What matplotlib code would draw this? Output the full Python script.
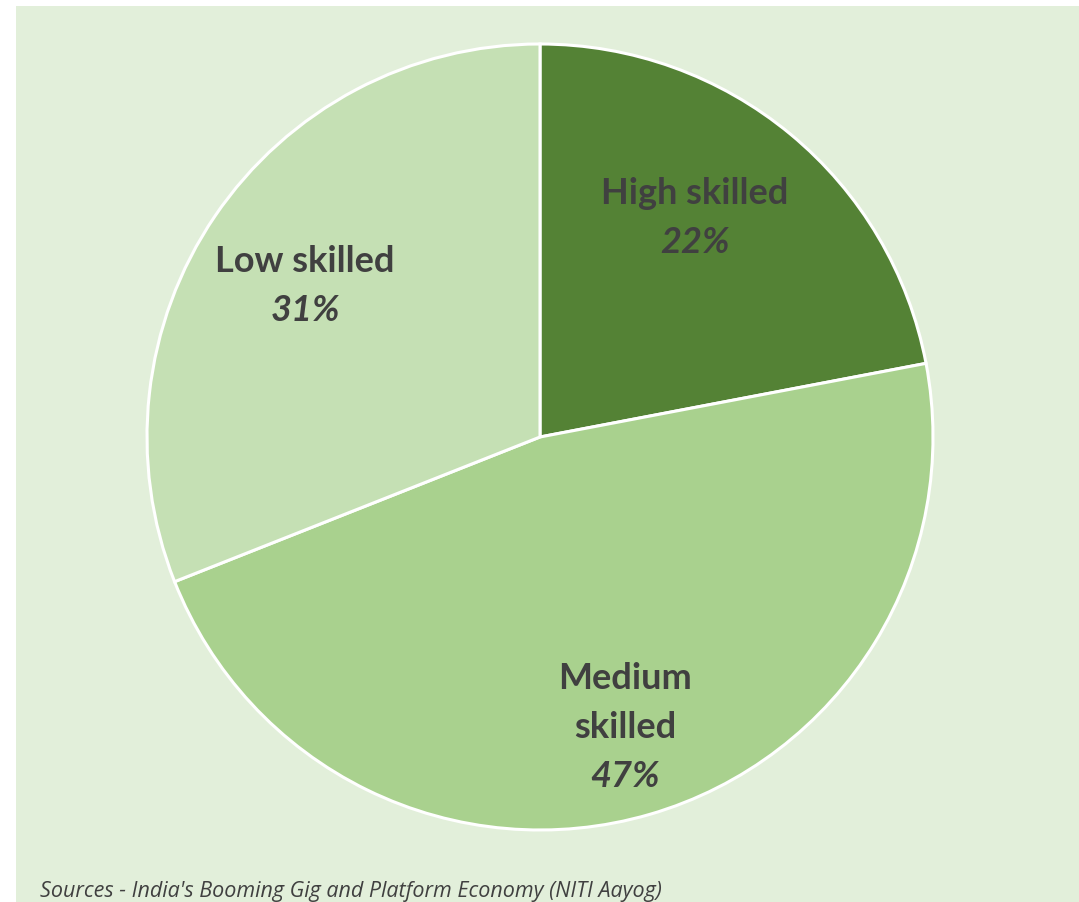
import numpy as np
import matplotlib
matplotlib.use("Agg")
import matplotlib.pyplot as plt
from matplotlib.patches import Rectangle

categories = ["High skilled", "Medium\nskilled", "Low skilled"]
shares = [22, 47, 31]
colors = ["#548235", "#A9D18E", "#C5E0B4"]
# label block centres, in units of the pie radius relative to its centre
label_pos = [(0.394, 0.567), (0.216, -0.728), (-0.598, 0.394)]
source = "Sources - India's Booming Gig and Platform Economy (NITI Aayog)"

W, H = 1079, 903
fig = plt.figure(figsize=(W / 100, H / 100), dpi=100)
fig.patch.set_facecolor("white")
ax = fig.add_axes([0, 0, 1, 1])

ax.add_patch(Rectangle((16, 0), W - 16, H - 7, facecolor="#E2EFDA", edgecolor="none", zorder=0))

cx, cy, R = 540, H - 438, 393
wedges, _ = ax.pie(shares, colors=colors, startangle=90, counterclock=False,
                   center=(cx, cy), radius=R, frame=True,
                   wedgeprops=dict(edgecolor="white", linewidth=2.2))
ax.set_xlim(0, W)
ax.set_ylim(0, H)
ax.set_aspect("equal")
ax.axis("off")

lh = 49
for cat, val, (px, py) in zip(categories, shares, label_pos):
    lines = cat.split("\n") + [f"{val}%"]
    n = len(lines)
    x = cx + px * R
    yc = cy + py * R
    for k, line in enumerate(lines):
        y = yc + ((n - 1) / 2 - k) * lh
        is_pct = k == n - 1
        ax.text(x, y, line, ha="center", va="center_baseline", fontsize=26,
                fontweight="bold", fontstyle="italic" if is_pct else "normal",
                color="#404040", family="Lato")

ax.text(40, H - 897, source, ha="left", va="baseline", fontsize=15.5, fontstyle="italic",
        color="#404040", family="Open Sans")

fig.savefig("out.png", dpi=100, facecolor="white")
